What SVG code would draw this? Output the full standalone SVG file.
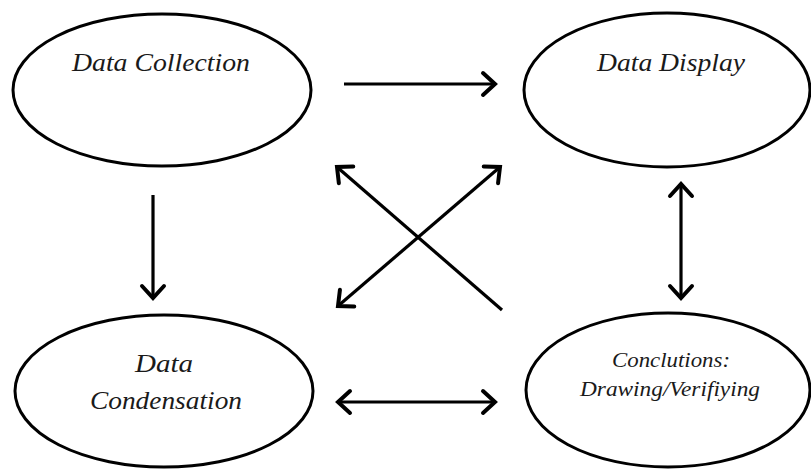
<svg xmlns="http://www.w3.org/2000/svg" width="811" height="469" viewBox="0 0 811 469">
<style>
.node ellipse{fill:#fff;stroke:#000;stroke-width:3}
.lbl{font-family:"Liberation Serif","Times New Roman",serif;font-style:italic;font-size:26px;fill:#1a1a1a;text-anchor:middle}
.sm{font-size:21px}
.conn line{stroke:#000;stroke-width:3.2;fill:none}
.thick{stroke-width:4.5px}
</style>
<defs>
<marker id="ah" markerUnits="userSpaceOnUse" markerWidth="34" markerHeight="34" refX="17" refY="17" orient="auto-start-reverse" viewBox="0 0 34 34">
<path d="M5,6 L17,17 L5,28" fill="none" stroke="#000" stroke-width="4" stroke-linejoin="miter" stroke-linecap="round"/>
</marker>
</defs>
<rect width="811" height="469" fill="#fff"/>
<g id="data-collection" class="node">
<ellipse cx="162" cy="90" rx="149" ry="76"/>
<text class="lbl" x="161" y="71" textLength="178" lengthAdjust="spacingAndGlyphs">Data Collection</text>
</g>
<g id="data-display" class="node">
<ellipse cx="667" cy="90" rx="143" ry="77"/>
<text class="lbl" x="671" y="71" textLength="148" lengthAdjust="spacingAndGlyphs">Data Display</text>
</g>
<g id="data-condensation" class="node">
<ellipse cx="164" cy="391" rx="149" ry="76"/>
<text class="lbl" x="164" y="372" textLength="58" lengthAdjust="spacingAndGlyphs">Data</text>
<text class="lbl" x="166" y="409" textLength="152" lengthAdjust="spacingAndGlyphs">Condensation</text>
</g>
<g id="conclusions" class="node">
<ellipse cx="668" cy="390" rx="142" ry="77"/>
<text class="lbl sm" x="671" y="367" textLength="118" lengthAdjust="spacingAndGlyphs">Conclutions:</text>
<text class="lbl sm" x="670" y="396" textLength="180" lengthAdjust="spacingAndGlyphs">Drawing/Verifiying</text>
</g>
<g id="connectors" class="conn">
<line class="thick" x1="344" y1="84" x2="495" y2="84" marker-end="url(#ah)"/>
<line x1="153" y1="195" x2="153" y2="298" marker-end="url(#ah)"/>
<line x1="681" y1="184" x2="681" y2="298" marker-start="url(#ah)" marker-end="url(#ah)"/>
<line class="thick" x1="338" y1="402" x2="495" y2="402" marker-start="url(#ah)" marker-end="url(#ah)"/>
<line x1="502" y1="310" x2="337" y2="167" marker-end="url(#ah)"/>
<line x1="338" y1="306" x2="500" y2="167" marker-start="url(#ah)" marker-end="url(#ah)"/>
</g>
</svg>
